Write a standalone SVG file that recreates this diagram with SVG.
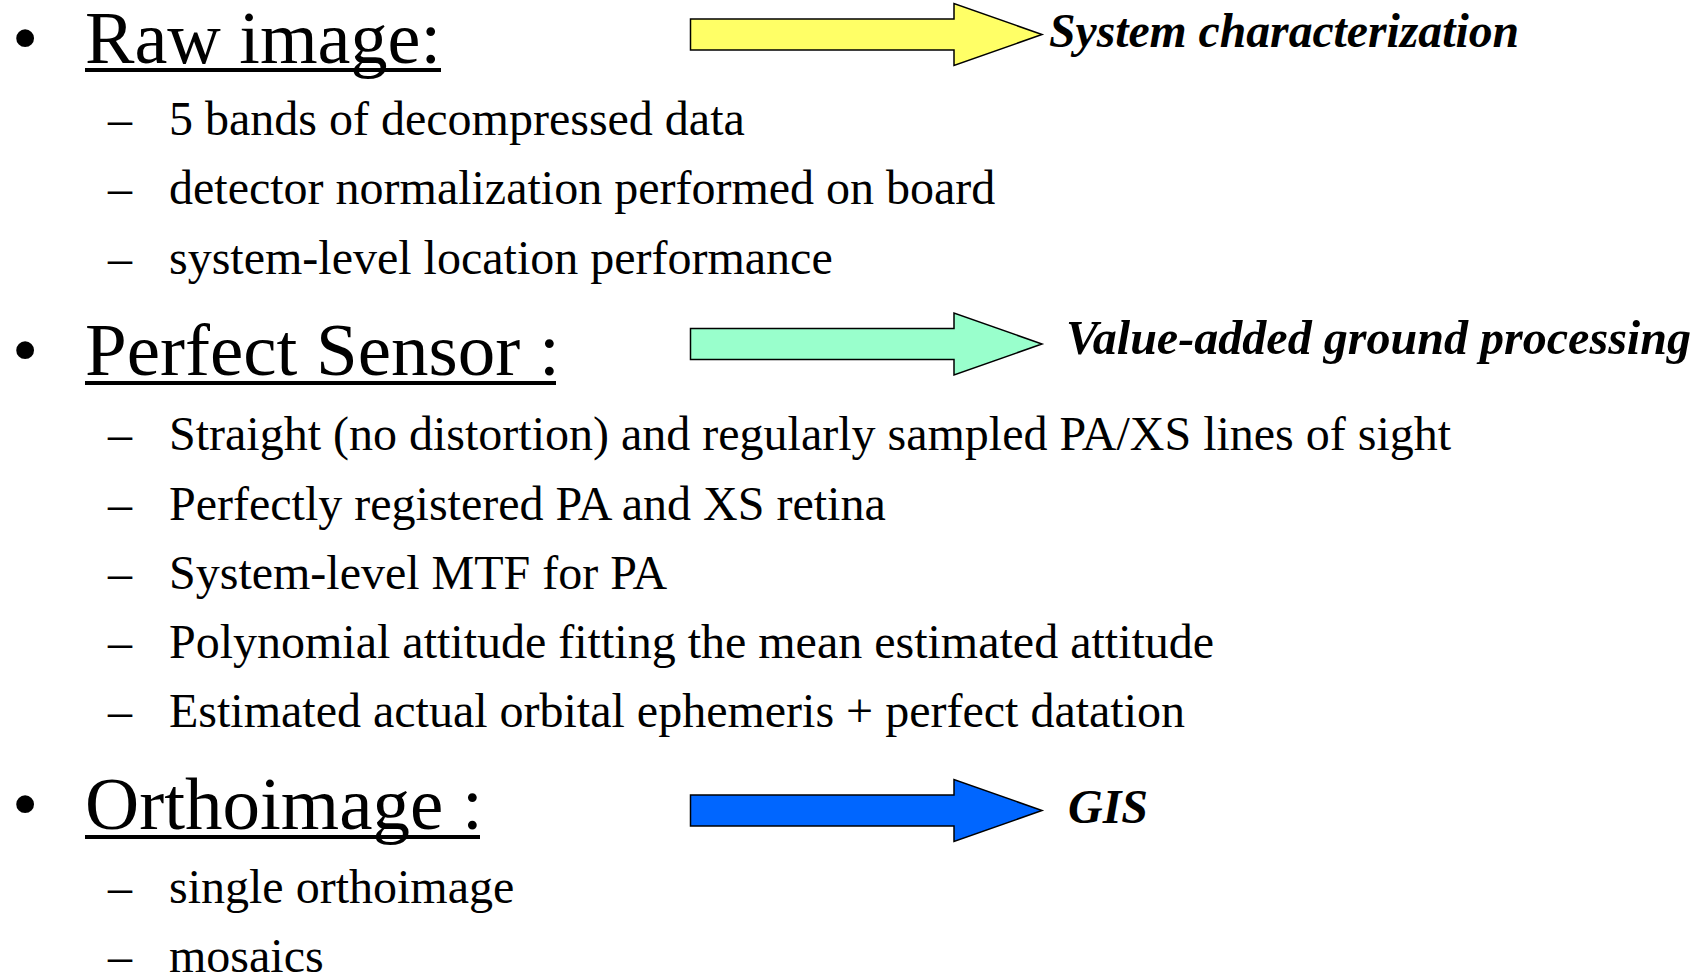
<svg xmlns="http://www.w3.org/2000/svg" width="1707" height="975" viewBox="0 0 1707 975">
<style>
  .head { font-family: "Liberation Serif", "Times New Roman", serif; font-size: 75px; fill: #000; }
  .bul { font-family: "Liberation Serif", "Times New Roman", serif; font-size: 75px; fill: #000; }
  .item { font-family: "Liberation Serif", "Times New Roman", serif; font-size: 48px; fill: #000; }
  .lab { font-family: "Liberation Serif", "Times New Roman", serif; font-size: 48px; font-weight: bold; font-style: italic; fill: #000; }
  .ul { stroke: #000; stroke-width: 4; }
  .arrow { stroke: #000; stroke-width: 1.5; stroke-linejoin: miter; }
</style>
<rect width="1707" height="975" fill="#fff"/>

<g id="section-raw">
  <text class="bul" x="12" y="63">•</text>
  <text class="head" x="85" y="63" textLength="356" lengthAdjust="spacingAndGlyphs">Raw image:</text>
  <line class="ul" x1="85" y1="70" x2="441" y2="70"/>
  <text class="item" x="108" y="135">–</text><text class="item" x="169" y="135">5 bands of decompressed data</text>
  <text class="item" x="108" y="204">–</text><text class="item" x="169" y="204">detector normalization performed on board</text>
  <text class="item" x="108" y="274">–</text><text class="item" x="169" y="274">system-level location performance</text>
</g>

<g id="section-perfect">
  <text class="bul" x="12" y="375">•</text>
  <text class="head" x="85" y="375">Perfect Sensor :</text>
  <line class="ul" x1="85" y1="383" x2="556" y2="383"/>
  <text class="item" x="108" y="450">–</text><text class="item" x="169" y="450">Straight (no distortion) and regularly sampled PA/XS lines of sight</text>
  <text class="item" x="108" y="520">–</text><text class="item" x="169" y="520">Perfectly registered PA and XS retina</text>
  <text class="item" x="108" y="589">–</text><text class="item" x="169" y="589">System-level MTF for PA</text>
  <text class="item" x="108" y="658">–</text><text class="item" x="169" y="658">Polynomial attitude fitting the mean estimated attitude</text>
  <text class="item" x="108" y="727">–</text><text class="item" x="169" y="727">Estimated actual orbital ephemeris + perfect datation</text>
</g>

<g id="section-ortho">
  <text class="bul" x="12" y="829">•</text>
  <text class="head" x="85" y="829">Orthoimage :</text>
  <line class="ul" x1="85" y1="837" x2="480" y2="837"/>
  <text class="item" x="108" y="903">–</text><text class="item" x="169" y="903">single orthoimage</text>
  <text class="item" x="108" y="972">–</text><text class="item" x="169" y="972">mosaics</text>
</g>

<g id="label-system">
  <text class="lab" x="1049" y="47" textLength="470" lengthAdjust="spacingAndGlyphs">System characterization</text>
</g>
<g id="label-value">
  <text class="lab" x="1066" y="354" textLength="625" lengthAdjust="spacingAndGlyphs">Value-added ground processing</text>
</g>
<g id="label-gis">
  <text class="lab" x="1068" y="823">GIS</text>
</g>

<g id="connectors">
  <path class="arrow" fill="#FFFF66" d="M690.5,19 H954 V3.5 L1042,34.5 L954,65.5 V50 H690.5 Z"/>
  <path class="arrow" fill="#99FFCC" d="M690.5,328.5 H954 V313 L1042,344 L954,375 V359.5 H690.5 Z"/>
  <path class="arrow" fill="#0066FF" d="M690.5,795 H954 V779.5 L1042,810.5 L954,841.5 V826 H690.5 Z"/>
</g>
</svg>
